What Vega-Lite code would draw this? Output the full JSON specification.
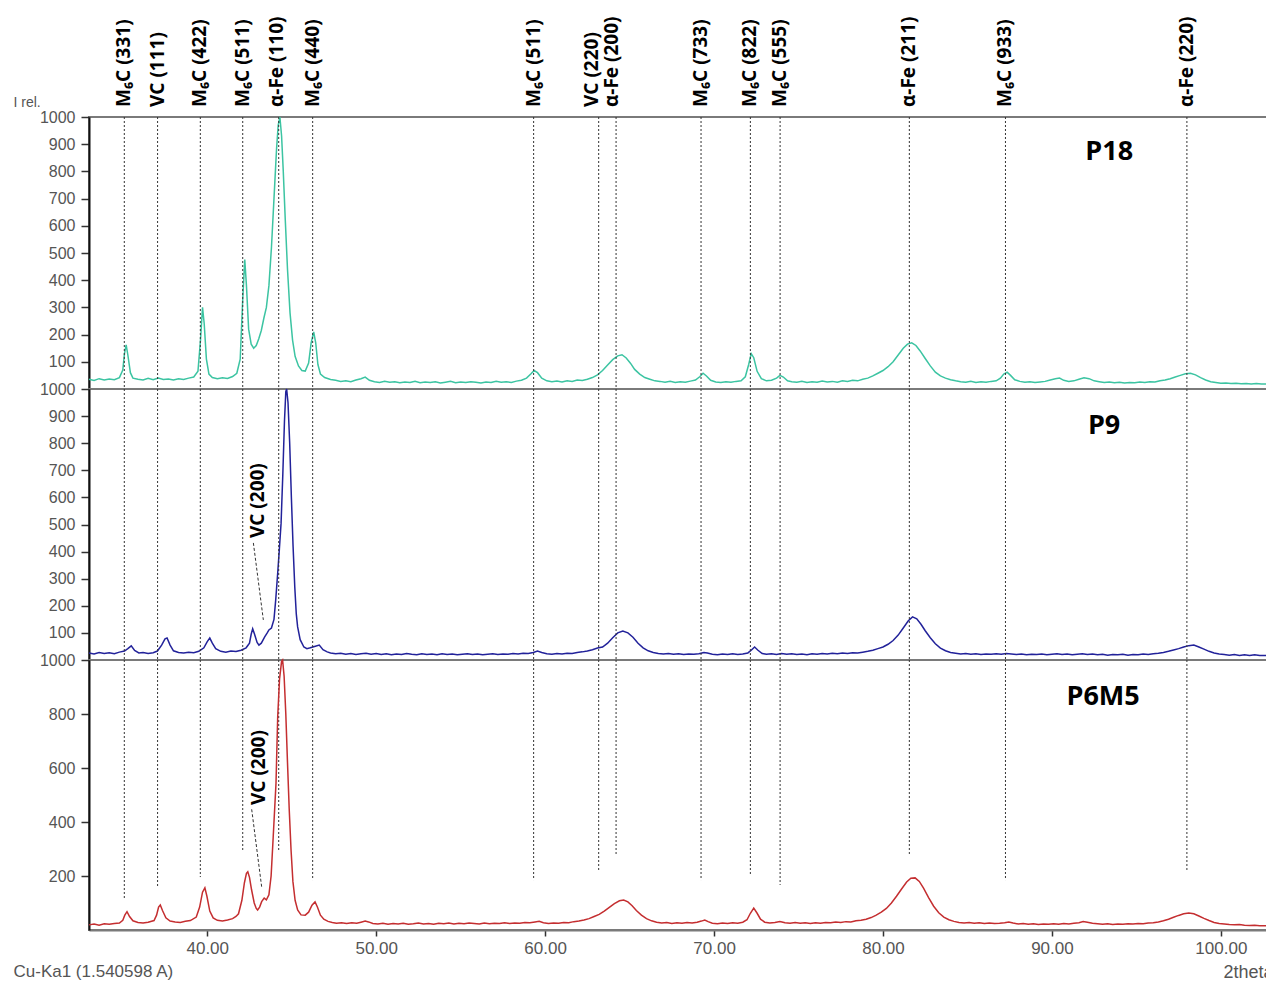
{
"$schema": "https://vega.github.io/schema/vega-lite/v6.json",
"background": "white",
"padding": {"left": 12, "top": 15, "right": 0, "bottom": 0},
"spacing": 0,
"bounds": "flush",
"datasets": {
"spec": [
{"s":"P18","x":33.0,"y":36},{"s":"P18","x":33.3,"y":31},{"s":"P18","x":33.6,"y":38},{"s":"P18","x":33.9,"y":33},{"s":"P18","x":34.2,"y":37},{"s":"P18","x":34.5,"y":34},{"s":"P18","x":34.8,"y":42},{"s":"P18","x":35.0,"y":70},{"s":"P18","x":35.1,"y":130},{"s":"P18","x":35.2,"y":162},{"s":"P18","x":35.3,"y":125},{"s":"P18","x":35.45,"y":60},{"s":"P18","x":35.6,"y":40},{"s":"P18","x":35.9,"y":36},{"s":"P18","x":36.2,"y":33},{"s":"P18","x":36.5,"y":39},{"s":"P18","x":36.8,"y":34},{"s":"P18","x":37.1,"y":40},{"s":"P18","x":37.4,"y":35},{"s":"P18","x":37.7,"y":37},{"s":"P18","x":38.0,"y":33},{"s":"P18","x":38.3,"y":38},{"s":"P18","x":38.6,"y":35},{"s":"P18","x":38.9,"y":40},{"s":"P18","x":39.2,"y":44},{"s":"P18","x":39.45,"y":65},{"s":"P18","x":39.6,"y":180},{"s":"P18","x":39.72,"y":300},{"s":"P18","x":39.82,"y":240},{"s":"P18","x":39.95,"y":110},{"s":"P18","x":40.1,"y":55},{"s":"P18","x":40.3,"y":42},{"s":"P18","x":40.6,"y":38},{"s":"P18","x":40.9,"y":41},{"s":"P18","x":41.2,"y":39},{"s":"P18","x":41.5,"y":46},{"s":"P18","x":41.75,"y":58},{"s":"P18","x":41.95,"y":110},{"s":"P18","x":42.1,"y":330},{"s":"P18","x":42.22,"y":476},{"s":"P18","x":42.32,"y":380},{"s":"P18","x":42.45,"y":220},{"s":"P18","x":42.6,"y":165},{"s":"P18","x":42.75,"y":150},{"s":"P18","x":42.9,"y":160},{"s":"P18","x":43.05,"y":185},{"s":"P18","x":43.2,"y":215},{"s":"P18","x":43.35,"y":260},{"s":"P18","x":43.5,"y":300},{"s":"P18","x":43.65,"y":380},{"s":"P18","x":43.8,"y":520},{"s":"P18","x":43.95,"y":700},{"s":"P18","x":44.1,"y":880},{"s":"P18","x":44.2,"y":970},{"s":"P18","x":44.3,"y":1000},{"s":"P18","x":44.4,"y":930},{"s":"P18","x":44.5,"y":800},{"s":"P18","x":44.62,"y":620},{"s":"P18","x":44.75,"y":440},{"s":"P18","x":44.9,"y":280},{"s":"P18","x":45.05,"y":180},{"s":"P18","x":45.2,"y":120},{"s":"P18","x":45.4,"y":85},{"s":"P18","x":45.6,"y":68},{"s":"P18","x":45.8,"y":66},{"s":"P18","x":46.0,"y":95},{"s":"P18","x":46.15,"y":170},{"s":"P18","x":46.3,"y":210},{"s":"P18","x":46.42,"y":170},{"s":"P18","x":46.55,"y":90},{"s":"P18","x":46.7,"y":55},{"s":"P18","x":46.95,"y":42},{"s":"P18","x":47.3,"y":35},{"s":"P18","x":47.6,"y":32},{"s":"P18","x":47.9,"y":28},{"s":"P18","x":48.2,"y":30},{"s":"P18","x":48.5,"y":27},{"s":"P18","x":48.8,"y":33},{"s":"P18","x":49.1,"y":38},{"s":"P18","x":49.35,"y":44},{"s":"P18","x":49.6,"y":32},{"s":"P18","x":49.9,"y":27},{"s":"P18","x":50.2,"y":24},{"s":"P18","x":50.5,"y":28},{"s":"P18","x":50.8,"y":25},{"s":"P18","x":51.1,"y":27},{"s":"P18","x":51.4,"y":23},{"s":"P18","x":51.7,"y":26},{"s":"P18","x":52.0,"y":24},{"s":"P18","x":52.3,"y":28},{"s":"P18","x":52.6,"y":23},{"s":"P18","x":52.9,"y":26},{"s":"P18","x":53.2,"y":24},{"s":"P18","x":53.5,"y":27},{"s":"P18","x":53.8,"y":22},{"s":"P18","x":54.1,"y":25},{"s":"P18","x":54.4,"y":28},{"s":"P18","x":54.7,"y":23},{"s":"P18","x":55.0,"y":26},{"s":"P18","x":55.3,"y":24},{"s":"P18","x":55.6,"y":27},{"s":"P18","x":55.9,"y":25},{"s":"P18","x":56.2,"y":22},{"s":"P18","x":56.5,"y":26},{"s":"P18","x":56.8,"y":24},{"s":"P18","x":57.1,"y":28},{"s":"P18","x":57.4,"y":25},{"s":"P18","x":57.7,"y":27},{"s":"P18","x":58.0,"y":24},{"s":"P18","x":58.3,"y":29},{"s":"P18","x":58.6,"y":32},{"s":"P18","x":58.9,"y":40},{"s":"P18","x":59.15,"y":55},{"s":"P18","x":59.35,"y":68},{"s":"P18","x":59.55,"y":60},{"s":"P18","x":59.8,"y":40},{"s":"P18","x":60.1,"y":30},{"s":"P18","x":60.4,"y":27},{"s":"P18","x":60.7,"y":29},{"s":"P18","x":61.0,"y":26},{"s":"P18","x":61.3,"y":30},{"s":"P18","x":61.6,"y":28},{"s":"P18","x":61.9,"y":33},{"s":"P18","x":62.2,"y":31},{"s":"P18","x":62.5,"y":36},{"s":"P18","x":62.8,"y":42},{"s":"P18","x":63.1,"y":52},{"s":"P18","x":63.4,"y":68},{"s":"P18","x":63.7,"y":88},{"s":"P18","x":64.0,"y":108},{"s":"P18","x":64.3,"y":122},{"s":"P18","x":64.55,"y":126},{"s":"P18","x":64.8,"y":114},{"s":"P18","x":65.05,"y":95},{"s":"P18","x":65.3,"y":72},{"s":"P18","x":65.6,"y":55},{"s":"P18","x":65.9,"y":42},{"s":"P18","x":66.2,"y":36},{"s":"P18","x":66.5,"y":30},{"s":"P18","x":66.8,"y":28},{"s":"P18","x":67.1,"y":25},{"s":"P18","x":67.4,"y":28},{"s":"P18","x":67.7,"y":24},{"s":"P18","x":68.0,"y":27},{"s":"P18","x":68.3,"y":25},{"s":"P18","x":68.6,"y":29},{"s":"P18","x":68.9,"y":33},{"s":"P18","x":69.15,"y":45},{"s":"P18","x":69.35,"y":58},{"s":"P18","x":69.55,"y":48},{"s":"P18","x":69.8,"y":32},{"s":"P18","x":70.1,"y":26},{"s":"P18","x":70.4,"y":24},{"s":"P18","x":70.7,"y":27},{"s":"P18","x":71.0,"y":25},{"s":"P18","x":71.3,"y":28},{"s":"P18","x":71.6,"y":30},{"s":"P18","x":71.85,"y":45},{"s":"P18","x":72.05,"y":90},{"s":"P18","x":72.2,"y":130},{"s":"P18","x":72.35,"y":115},{"s":"P18","x":72.55,"y":65},{"s":"P18","x":72.8,"y":38},{"s":"P18","x":73.1,"y":30},{"s":"P18","x":73.4,"y":32},{"s":"P18","x":73.7,"y":40},{"s":"P18","x":73.9,"y":50},{"s":"P18","x":74.1,"y":44},{"s":"P18","x":74.35,"y":30},{"s":"P18","x":74.6,"y":27},{"s":"P18","x":74.9,"y":25},{"s":"P18","x":75.2,"y":28},{"s":"P18","x":75.5,"y":24},{"s":"P18","x":75.8,"y":27},{"s":"P18","x":76.1,"y":25},{"s":"P18","x":76.4,"y":29},{"s":"P18","x":76.7,"y":26},{"s":"P18","x":77.0,"y":28},{"s":"P18","x":77.3,"y":25},{"s":"P18","x":77.6,"y":30},{"s":"P18","x":77.9,"y":28},{"s":"P18","x":78.2,"y":32},{"s":"P18","x":78.5,"y":30},{"s":"P18","x":78.8,"y":36},{"s":"P18","x":79.1,"y":40},{"s":"P18","x":79.4,"y":48},{"s":"P18","x":79.7,"y":58},{"s":"P18","x":80.0,"y":68},{"s":"P18","x":80.3,"y":82},{"s":"P18","x":80.6,"y":100},{"s":"P18","x":80.9,"y":125},{"s":"P18","x":81.2,"y":150},{"s":"P18","x":81.45,"y":165},{"s":"P18","x":81.7,"y":170},{"s":"P18","x":81.95,"y":160},{"s":"P18","x":82.2,"y":140},{"s":"P18","x":82.5,"y":112},{"s":"P18","x":82.8,"y":85},{"s":"P18","x":83.1,"y":62},{"s":"P18","x":83.4,"y":48},{"s":"P18","x":83.7,"y":40},{"s":"P18","x":84.0,"y":34},{"s":"P18","x":84.3,"y":30},{"s":"P18","x":84.6,"y":27},{"s":"P18","x":84.9,"y":25},{"s":"P18","x":85.2,"y":28},{"s":"P18","x":85.5,"y":24},{"s":"P18","x":85.8,"y":27},{"s":"P18","x":86.1,"y":25},{"s":"P18","x":86.4,"y":28},{"s":"P18","x":86.7,"y":30},{"s":"P18","x":86.95,"y":40},{"s":"P18","x":87.15,"y":55},{"s":"P18","x":87.35,"y":62},{"s":"P18","x":87.55,"y":50},{"s":"P18","x":87.8,"y":34},{"s":"P18","x":88.1,"y":28},{"s":"P18","x":88.4,"y":25},{"s":"P18","x":88.7,"y":27},{"s":"P18","x":89.0,"y":24},{"s":"P18","x":89.3,"y":26},{"s":"P18","x":89.6,"y":28},{"s":"P18","x":89.9,"y":33},{"s":"P18","x":90.2,"y":38},{"s":"P18","x":90.45,"y":40},{"s":"P18","x":90.7,"y":32},{"s":"P18","x":91.0,"y":28},{"s":"P18","x":91.3,"y":30},{"s":"P18","x":91.6,"y":36},{"s":"P18","x":91.9,"y":41},{"s":"P18","x":92.2,"y":38},{"s":"P18","x":92.5,"y":30},{"s":"P18","x":92.8,"y":27},{"s":"P18","x":93.1,"y":24},{"s":"P18","x":93.4,"y":26},{"s":"P18","x":93.7,"y":23},{"s":"P18","x":94.0,"y":25},{"s":"P18","x":94.3,"y":22},{"s":"P18","x":94.6,"y":24},{"s":"P18","x":94.9,"y":23},{"s":"P18","x":95.2,"y":26},{"s":"P18","x":95.5,"y":24},{"s":"P18","x":95.8,"y":27},{"s":"P18","x":96.1,"y":26},{"s":"P18","x":96.4,"y":30},{"s":"P18","x":96.7,"y":33},{"s":"P18","x":97.0,"y":38},{"s":"P18","x":97.3,"y":44},{"s":"P18","x":97.6,"y":50},{"s":"P18","x":97.9,"y":56},{"s":"P18","x":98.2,"y":58},{"s":"P18","x":98.5,"y":52},{"s":"P18","x":98.8,"y":42},{"s":"P18","x":99.1,"y":33},{"s":"P18","x":99.4,"y":27},{"s":"P18","x":99.7,"y":24},{"s":"P18","x":100.0,"y":21},{"s":"P18","x":100.3,"y":22},{"s":"P18","x":100.6,"y":20},{"s":"P18","x":100.9,"y":21},{"s":"P18","x":101.2,"y":19},{"s":"P18","x":101.5,"y":20},{"s":"P18","x":101.8,"y":18},{"s":"P18","x":102.1,"y":20},{"s":"P18","x":102.4,"y":18},{"s":"P18","x":102.85,"y":18},
{"s":"P9","x":33.0,"y":26},{"s":"P9","x":33.3,"y":22},{"s":"P9","x":33.6,"y":28},{"s":"P9","x":33.9,"y":24},{"s":"P9","x":34.2,"y":27},{"s":"P9","x":34.5,"y":23},{"s":"P9","x":34.8,"y":29},{"s":"P9","x":35.1,"y":33},{"s":"P9","x":35.3,"y":42},{"s":"P9","x":35.5,"y":52},{"s":"P9","x":35.7,"y":35},{"s":"P9","x":35.95,"y":26},{"s":"P9","x":36.2,"y":28},{"s":"P9","x":36.5,"y":24},{"s":"P9","x":36.8,"y":27},{"s":"P9","x":37.05,"y":33},{"s":"P9","x":37.3,"y":55},{"s":"P9","x":37.5,"y":78},{"s":"P9","x":37.62,"y":81},{"s":"P9","x":37.8,"y":55},{"s":"P9","x":38.0,"y":34},{"s":"P9","x":38.3,"y":28},{"s":"P9","x":38.6,"y":26},{"s":"P9","x":38.9,"y":29},{"s":"P9","x":39.2,"y":27},{"s":"P9","x":39.5,"y":32},{"s":"P9","x":39.8,"y":45},{"s":"P9","x":40.0,"y":68},{"s":"P9","x":40.15,"y":81},{"s":"P9","x":40.3,"y":62},{"s":"P9","x":40.5,"y":42},{"s":"P9","x":40.8,"y":32},{"s":"P9","x":41.1,"y":29},{"s":"P9","x":41.4,"y":33},{"s":"P9","x":41.7,"y":31},{"s":"P9","x":42.0,"y":36},{"s":"P9","x":42.3,"y":45},{"s":"P9","x":42.5,"y":62},{"s":"P9","x":42.6,"y":95},{"s":"P9","x":42.69,"y":115},{"s":"P9","x":42.8,"y":95},{"s":"P9","x":42.95,"y":65},{"s":"P9","x":43.06,"y":55},{"s":"P9","x":43.2,"y":62},{"s":"P9","x":43.4,"y":85},{"s":"P9","x":43.55,"y":100},{"s":"P9","x":43.65,"y":111},{"s":"P9","x":43.8,"y":118},{"s":"P9","x":43.95,"y":150},{"s":"P9","x":44.05,"y":220},{"s":"P9","x":44.17,"y":321},{"s":"P9","x":44.27,"y":410},{"s":"P9","x":44.37,"y":505},{"s":"P9","x":44.47,"y":680},{"s":"P9","x":44.57,"y":880},{"s":"P9","x":44.65,"y":990},{"s":"P9","x":44.7,"y":1000},{"s":"P9","x":44.78,"y":950},{"s":"P9","x":44.88,"y":800},{"s":"P9","x":44.98,"y":600},{"s":"P9","x":45.08,"y":420},{"s":"P9","x":45.18,"y":270},{"s":"P9","x":45.27,"y":170},{"s":"P9","x":45.35,"y":122},{"s":"P9","x":45.5,"y":75},{"s":"P9","x":45.72,"y":48},{"s":"P9","x":45.9,"y":42},{"s":"P9","x":46.1,"y":45},{"s":"P9","x":46.35,"y":50},{"s":"P9","x":46.63,"y":55},{"s":"P9","x":46.85,"y":38},{"s":"P9","x":47.1,"y":30},{"s":"P9","x":47.3,"y":26},{"s":"P9","x":47.6,"y":23},{"s":"P9","x":47.9,"y":25},{"s":"P9","x":48.2,"y":21},{"s":"P9","x":48.5,"y":24},{"s":"P9","x":48.8,"y":20},{"s":"P9","x":49.1,"y":23},{"s":"P9","x":49.4,"y":25},{"s":"P9","x":49.7,"y":21},{"s":"P9","x":50.0,"y":24},{"s":"P9","x":50.3,"y":20},{"s":"P9","x":50.6,"y":23},{"s":"P9","x":50.9,"y":19},{"s":"P9","x":51.2,"y":22},{"s":"P9","x":51.5,"y":20},{"s":"P9","x":51.8,"y":24},{"s":"P9","x":52.1,"y":21},{"s":"P9","x":52.4,"y":19},{"s":"P9","x":52.7,"y":23},{"s":"P9","x":53.0,"y":20},{"s":"P9","x":53.3,"y":22},{"s":"P9","x":53.6,"y":19},{"s":"P9","x":53.9,"y":23},{"s":"P9","x":54.2,"y":20},{"s":"P9","x":54.5,"y":22},{"s":"P9","x":54.8,"y":19},{"s":"P9","x":55.1,"y":21},{"s":"P9","x":55.4,"y":23},{"s":"P9","x":55.7,"y":20},{"s":"P9","x":56.0,"y":22},{"s":"P9","x":56.3,"y":19},{"s":"P9","x":56.6,"y":21},{"s":"P9","x":56.9,"y":23},{"s":"P9","x":57.2,"y":20},{"s":"P9","x":57.5,"y":22},{"s":"P9","x":57.8,"y":21},{"s":"P9","x":58.1,"y":24},{"s":"P9","x":58.4,"y":22},{"s":"P9","x":58.7,"y":25},{"s":"P9","x":59.0,"y":24},{"s":"P9","x":59.3,"y":28},{"s":"P9","x":59.55,"y":33},{"s":"P9","x":59.8,"y":28},{"s":"P9","x":60.1,"y":23},{"s":"P9","x":60.4,"y":21},{"s":"P9","x":60.7,"y":24},{"s":"P9","x":61.0,"y":22},{"s":"P9","x":61.3,"y":25},{"s":"P9","x":61.6,"y":24},{"s":"P9","x":61.9,"y":28},{"s":"P9","x":62.2,"y":30},{"s":"P9","x":62.5,"y":33},{"s":"P9","x":62.8,"y":38},{"s":"P9","x":63.1,"y":44},{"s":"P9","x":63.4,"y":48},{"s":"P9","x":63.7,"y":62},{"s":"P9","x":64.0,"y":82},{"s":"P9","x":64.3,"y":100},{"s":"P9","x":64.6,"y":107},{"s":"P9","x":64.9,"y":100},{"s":"P9","x":65.2,"y":84},{"s":"P9","x":65.5,"y":62},{"s":"P9","x":65.8,"y":45},{"s":"P9","x":66.1,"y":34},{"s":"P9","x":66.4,"y":28},{"s":"P9","x":66.7,"y":24},{"s":"P9","x":67.0,"y":22},{"s":"P9","x":67.3,"y":24},{"s":"P9","x":67.6,"y":21},{"s":"P9","x":67.9,"y":23},{"s":"P9","x":68.2,"y":20},{"s":"P9","x":68.5,"y":22},{"s":"P9","x":68.8,"y":21},{"s":"P9","x":69.1,"y":23},{"s":"P9","x":69.4,"y":28},{"s":"P9","x":69.6,"y":26},{"s":"P9","x":69.9,"y":21},{"s":"P9","x":70.2,"y":19},{"s":"P9","x":70.5,"y":22},{"s":"P9","x":70.8,"y":20},{"s":"P9","x":71.1,"y":23},{"s":"P9","x":71.4,"y":20},{"s":"P9","x":71.7,"y":22},{"s":"P9","x":72.0,"y":26},{"s":"P9","x":72.2,"y":36},{"s":"P9","x":72.4,"y":48},{"s":"P9","x":72.6,"y":36},{"s":"P9","x":72.85,"y":24},{"s":"P9","x":73.1,"y":21},{"s":"P9","x":73.4,"y":23},{"s":"P9","x":73.7,"y":20},{"s":"P9","x":74.0,"y":24},{"s":"P9","x":74.3,"y":21},{"s":"P9","x":74.6,"y":23},{"s":"P9","x":74.9,"y":20},{"s":"P9","x":75.2,"y":22},{"s":"P9","x":75.5,"y":19},{"s":"P9","x":75.8,"y":23},{"s":"P9","x":76.1,"y":21},{"s":"P9","x":76.4,"y":24},{"s":"P9","x":76.7,"y":22},{"s":"P9","x":77.0,"y":25},{"s":"P9","x":77.3,"y":23},{"s":"P9","x":77.6,"y":26},{"s":"P9","x":77.9,"y":24},{"s":"P9","x":78.2,"y":27},{"s":"P9","x":78.5,"y":26},{"s":"P9","x":78.8,"y":29},{"s":"P9","x":79.1,"y":32},{"s":"P9","x":79.4,"y":36},{"s":"P9","x":79.7,"y":42},{"s":"P9","x":80.0,"y":48},{"s":"P9","x":80.3,"y":58},{"s":"P9","x":80.6,"y":72},{"s":"P9","x":80.9,"y":92},{"s":"P9","x":81.2,"y":118},{"s":"P9","x":81.5,"y":145},{"s":"P9","x":81.75,"y":159},{"s":"P9","x":82.0,"y":152},{"s":"P9","x":82.25,"y":132},{"s":"P9","x":82.5,"y":108},{"s":"P9","x":82.8,"y":82},{"s":"P9","x":83.1,"y":60},{"s":"P9","x":83.4,"y":44},{"s":"P9","x":83.7,"y":34},{"s":"P9","x":84.0,"y":28},{"s":"P9","x":84.3,"y":25},{"s":"P9","x":84.6,"y":22},{"s":"P9","x":84.9,"y":24},{"s":"P9","x":85.2,"y":21},{"s":"P9","x":85.5,"y":23},{"s":"P9","x":85.8,"y":20},{"s":"P9","x":86.1,"y":22},{"s":"P9","x":86.4,"y":21},{"s":"P9","x":86.7,"y":23},{"s":"P9","x":87.0,"y":21},{"s":"P9","x":87.3,"y":24},{"s":"P9","x":87.6,"y":22},{"s":"P9","x":87.9,"y":20},{"s":"P9","x":88.2,"y":22},{"s":"P9","x":88.5,"y":19},{"s":"P9","x":88.8,"y":21},{"s":"P9","x":89.1,"y":20},{"s":"P9","x":89.4,"y":22},{"s":"P9","x":89.7,"y":19},{"s":"P9","x":90.0,"y":21},{"s":"P9","x":90.3,"y":23},{"s":"P9","x":90.6,"y":20},{"s":"P9","x":90.9,"y":22},{"s":"P9","x":91.2,"y":19},{"s":"P9","x":91.5,"y":21},{"s":"P9","x":91.8,"y":23},{"s":"P9","x":92.1,"y":20},{"s":"P9","x":92.4,"y":22},{"s":"P9","x":92.7,"y":19},{"s":"P9","x":93.0,"y":21},{"s":"P9","x":93.3,"y":18},{"s":"P9","x":93.6,"y":20},{"s":"P9","x":93.9,"y":19},{"s":"P9","x":94.2,"y":21},{"s":"P9","x":94.5,"y":18},{"s":"P9","x":94.8,"y":20},{"s":"P9","x":95.1,"y":19},{"s":"P9","x":95.4,"y":22},{"s":"P9","x":95.7,"y":20},{"s":"P9","x":96.0,"y":23},{"s":"P9","x":96.3,"y":25},{"s":"P9","x":96.6,"y":28},{"s":"P9","x":96.9,"y":32},{"s":"P9","x":97.2,"y":37},{"s":"P9","x":97.5,"y":42},{"s":"P9","x":97.8,"y":48},{"s":"P9","x":98.1,"y":53},{"s":"P9","x":98.4,"y":55},{"s":"P9","x":98.7,"y":48},{"s":"P9","x":99.0,"y":40},{"s":"P9","x":99.3,"y":32},{"s":"P9","x":99.6,"y":26},{"s":"P9","x":99.9,"y":22},{"s":"P9","x":100.2,"y":20},{"s":"P9","x":100.5,"y":18},{"s":"P9","x":100.8,"y":20},{"s":"P9","x":101.1,"y":17},{"s":"P9","x":101.4,"y":19},{"s":"P9","x":101.7,"y":17},{"s":"P9","x":102.0,"y":19},{"s":"P9","x":102.3,"y":17},{"s":"P9","x":102.85,"y":17},
{"s":"P6M5","x":33.0,"y":19},{"s":"P6M5","x":33.3,"y":22},{"s":"P6M5","x":33.6,"y":18},{"s":"P6M5","x":33.9,"y":23},{"s":"P6M5","x":34.2,"y":21},{"s":"P6M5","x":34.5,"y":24},{"s":"P6M5","x":34.8,"y":26},{"s":"P6M5","x":35.0,"y":36},{"s":"P6M5","x":35.12,"y":55},{"s":"P6M5","x":35.25,"y":68},{"s":"P6M5","x":35.4,"y":50},{"s":"P6M5","x":35.6,"y":34},{"s":"P6M5","x":35.9,"y":28},{"s":"P6M5","x":36.2,"y":26},{"s":"P6M5","x":36.5,"y":29},{"s":"P6M5","x":36.85,"y":35},{"s":"P6M5","x":37.0,"y":55},{"s":"P6M5","x":37.12,"y":85},{"s":"P6M5","x":37.22,"y":93},{"s":"P6M5","x":37.35,"y":72},{"s":"P6M5","x":37.55,"y":45},{"s":"P6M5","x":37.8,"y":33},{"s":"P6M5","x":38.1,"y":30},{"s":"P6M5","x":38.4,"y":28},{"s":"P6M5","x":38.7,"y":32},{"s":"P6M5","x":39.0,"y":35},{"s":"P6M5","x":39.35,"y":48},{"s":"P6M5","x":39.55,"y":85},{"s":"P6M5","x":39.72,"y":140},{"s":"P6M5","x":39.86,"y":156},{"s":"P6M5","x":39.98,"y":125},{"s":"P6M5","x":40.15,"y":70},{"s":"P6M5","x":40.35,"y":45},{"s":"P6M5","x":40.6,"y":36},{"s":"P6M5","x":40.9,"y":33},{"s":"P6M5","x":41.2,"y":37},{"s":"P6M5","x":41.5,"y":42},{"s":"P6M5","x":41.7,"y":50},{"s":"P6M5","x":41.85,"y":60},{"s":"P6M5","x":42.05,"y":110},{"s":"P6M5","x":42.2,"y":175},{"s":"P6M5","x":42.32,"y":210},{"s":"P6M5","x":42.4,"y":216},{"s":"P6M5","x":42.5,"y":195},{"s":"P6M5","x":42.62,"y":150},{"s":"P6M5","x":42.78,"y":100},{"s":"P6M5","x":42.9,"y":80},{"s":"P6M5","x":42.98,"y":74},{"s":"P6M5","x":43.1,"y":85},{"s":"P6M5","x":43.22,"y":105},{"s":"P6M5","x":43.37,"y":118},{"s":"P6M5","x":43.5,"y":112},{"s":"P6M5","x":43.65,"y":130},{"s":"P6M5","x":43.78,"y":200},{"s":"P6M5","x":43.9,"y":340},{"s":"P6M5","x":44.0,"y":460},{"s":"P6M5","x":44.07,"y":544},{"s":"P6M5","x":44.17,"y":790},{"s":"P6M5","x":44.28,"y":930},{"s":"P6M5","x":44.4,"y":995},{"s":"P6M5","x":44.46,"y":1000},{"s":"P6M5","x":44.55,"y":940},{"s":"P6M5","x":44.65,"y":800},{"s":"P6M5","x":44.75,"y":620},{"s":"P6M5","x":44.85,"y":450},{"s":"P6M5","x":44.96,"y":296},{"s":"P6M5","x":45.07,"y":180},{"s":"P6M5","x":45.2,"y":110},{"s":"P6M5","x":45.35,"y":74},{"s":"P6M5","x":45.55,"y":56},{"s":"P6M5","x":45.8,"y":55},{"s":"P6M5","x":46.0,"y":66},{"s":"P6M5","x":46.2,"y":92},{"s":"P6M5","x":46.38,"y":104},{"s":"P6M5","x":46.52,"y":85},{"s":"P6M5","x":46.7,"y":55},{"s":"P6M5","x":46.9,"y":40},{"s":"P6M5","x":47.15,"y":32},{"s":"P6M5","x":47.4,"y":28},{"s":"P6M5","x":47.65,"y":25},{"s":"P6M5","x":47.95,"y":27},{"s":"P6M5","x":48.25,"y":24},{"s":"P6M5","x":48.55,"y":27},{"s":"P6M5","x":48.85,"y":25},{"s":"P6M5","x":49.1,"y":29},{"s":"P6M5","x":49.35,"y":33},{"s":"P6M5","x":49.55,"y":30},{"s":"P6M5","x":49.8,"y":24},{"s":"P6M5","x":50.1,"y":22},{"s":"P6M5","x":50.4,"y":25},{"s":"P6M5","x":50.7,"y":21},{"s":"P6M5","x":51.0,"y":24},{"s":"P6M5","x":51.3,"y":22},{"s":"P6M5","x":51.6,"y":25},{"s":"P6M5","x":51.9,"y":21},{"s":"P6M5","x":52.2,"y":23},{"s":"P6M5","x":52.5,"y":26},{"s":"P6M5","x":52.8,"y":22},{"s":"P6M5","x":53.1,"y":24},{"s":"P6M5","x":53.4,"y":21},{"s":"P6M5","x":53.7,"y":25},{"s":"P6M5","x":54.0,"y":23},{"s":"P6M5","x":54.3,"y":26},{"s":"P6M5","x":54.6,"y":22},{"s":"P6M5","x":54.9,"y":25},{"s":"P6M5","x":55.2,"y":23},{"s":"P6M5","x":55.5,"y":26},{"s":"P6M5","x":55.8,"y":24},{"s":"P6M5","x":56.1,"y":22},{"s":"P6M5","x":56.4,"y":26},{"s":"P6M5","x":56.7,"y":23},{"s":"P6M5","x":57.0,"y":25},{"s":"P6M5","x":57.3,"y":24},{"s":"P6M5","x":57.6,"y":27},{"s":"P6M5","x":57.9,"y":24},{"s":"P6M5","x":58.2,"y":26},{"s":"P6M5","x":58.5,"y":25},{"s":"P6M5","x":58.8,"y":28},{"s":"P6M5","x":59.1,"y":27},{"s":"P6M5","x":59.4,"y":30},{"s":"P6M5","x":59.65,"y":32},{"s":"P6M5","x":59.9,"y":27},{"s":"P6M5","x":60.2,"y":24},{"s":"P6M5","x":60.5,"y":26},{"s":"P6M5","x":60.8,"y":25},{"s":"P6M5","x":61.1,"y":28},{"s":"P6M5","x":61.4,"y":27},{"s":"P6M5","x":61.7,"y":31},{"s":"P6M5","x":62.0,"y":33},{"s":"P6M5","x":62.3,"y":37},{"s":"P6M5","x":62.6,"y":42},{"s":"P6M5","x":62.9,"y":50},{"s":"P6M5","x":63.2,"y":58},{"s":"P6M5","x":63.5,"y":70},{"s":"P6M5","x":63.8,"y":84},{"s":"P6M5","x":64.1,"y":98},{"s":"P6M5","x":64.4,"y":108},{"s":"P6M5","x":64.65,"y":111},{"s":"P6M5","x":64.9,"y":104},{"s":"P6M5","x":65.15,"y":90},{"s":"P6M5","x":65.4,"y":72},{"s":"P6M5","x":65.7,"y":55},{"s":"P6M5","x":66.0,"y":42},{"s":"P6M5","x":66.3,"y":34},{"s":"P6M5","x":66.6,"y":29},{"s":"P6M5","x":66.9,"y":26},{"s":"P6M5","x":67.2,"y":28},{"s":"P6M5","x":67.5,"y":24},{"s":"P6M5","x":67.8,"y":27},{"s":"P6M5","x":68.1,"y":25},{"s":"P6M5","x":68.4,"y":28},{"s":"P6M5","x":68.7,"y":26},{"s":"P6M5","x":69.0,"y":29},{"s":"P6M5","x":69.25,"y":33},{"s":"P6M5","x":69.45,"y":37},{"s":"P6M5","x":69.65,"y":31},{"s":"P6M5","x":69.9,"y":25},{"s":"P6M5","x":70.2,"y":23},{"s":"P6M5","x":70.5,"y":26},{"s":"P6M5","x":70.8,"y":24},{"s":"P6M5","x":71.1,"y":27},{"s":"P6M5","x":71.4,"y":25},{"s":"P6M5","x":71.7,"y":29},{"s":"P6M5","x":71.95,"y":38},{"s":"P6M5","x":72.15,"y":62},{"s":"P6M5","x":72.35,"y":81},{"s":"P6M5","x":72.55,"y":62},{"s":"P6M5","x":72.75,"y":40},{"s":"P6M5","x":73.0,"y":29},{"s":"P6M5","x":73.3,"y":26},{"s":"P6M5","x":73.6,"y":28},{"s":"P6M5","x":73.9,"y":31},{"s":"P6M5","x":74.2,"y":27},{"s":"P6M5","x":74.5,"y":25},{"s":"P6M5","x":74.8,"y":28},{"s":"P6M5","x":75.1,"y":25},{"s":"P6M5","x":75.4,"y":27},{"s":"P6M5","x":75.7,"y":24},{"s":"P6M5","x":76.0,"y":27},{"s":"P6M5","x":76.3,"y":25},{"s":"P6M5","x":76.6,"y":28},{"s":"P6M5","x":76.9,"y":27},{"s":"P6M5","x":77.2,"y":30},{"s":"P6M5","x":77.5,"y":28},{"s":"P6M5","x":77.8,"y":31},{"s":"P6M5","x":78.1,"y":30},{"s":"P6M5","x":78.4,"y":34},{"s":"P6M5","x":78.7,"y":36},{"s":"P6M5","x":79.0,"y":40},{"s":"P6M5","x":79.3,"y":46},{"s":"P6M5","x":79.6,"y":55},{"s":"P6M5","x":79.9,"y":66},{"s":"P6M5","x":80.2,"y":80},{"s":"P6M5","x":80.5,"y":100},{"s":"P6M5","x":80.8,"y":125},{"s":"P6M5","x":81.1,"y":152},{"s":"P6M5","x":81.4,"y":178},{"s":"P6M5","x":81.65,"y":192},{"s":"P6M5","x":81.9,"y":193},{"s":"P6M5","x":82.15,"y":180},{"s":"P6M5","x":82.4,"y":155},{"s":"P6M5","x":82.7,"y":120},{"s":"P6M5","x":83.0,"y":88},{"s":"P6M5","x":83.3,"y":64},{"s":"P6M5","x":83.6,"y":48},{"s":"P6M5","x":83.9,"y":38},{"s":"P6M5","x":84.2,"y":32},{"s":"P6M5","x":84.5,"y":28},{"s":"P6M5","x":84.8,"y":26},{"s":"P6M5","x":85.1,"y":28},{"s":"P6M5","x":85.4,"y":25},{"s":"P6M5","x":85.7,"y":27},{"s":"P6M5","x":86.0,"y":24},{"s":"P6M5","x":86.3,"y":26},{"s":"P6M5","x":86.6,"y":24},{"s":"P6M5","x":86.9,"y":25},{"s":"P6M5","x":87.2,"y":27},{"s":"P6M5","x":87.45,"y":30},{"s":"P6M5","x":87.7,"y":26},{"s":"P6M5","x":88.0,"y":22},{"s":"P6M5","x":88.3,"y":24},{"s":"P6M5","x":88.6,"y":21},{"s":"P6M5","x":88.9,"y":23},{"s":"P6M5","x":89.2,"y":20},{"s":"P6M5","x":89.5,"y":22},{"s":"P6M5","x":89.8,"y":21},{"s":"P6M5","x":90.1,"y":23},{"s":"P6M5","x":90.4,"y":21},{"s":"P6M5","x":90.7,"y":24},{"s":"P6M5","x":91.0,"y":22},{"s":"P6M5","x":91.3,"y":25},{"s":"P6M5","x":91.6,"y":27},{"s":"P6M5","x":91.85,"y":31},{"s":"P6M5","x":92.1,"y":29},{"s":"P6M5","x":92.4,"y":25},{"s":"P6M5","x":92.7,"y":23},{"s":"P6M5","x":93.0,"y":21},{"s":"P6M5","x":93.3,"y":23},{"s":"P6M5","x":93.6,"y":20},{"s":"P6M5","x":93.9,"y":22},{"s":"P6M5","x":94.2,"y":21},{"s":"P6M5","x":94.5,"y":23},{"s":"P6M5","x":94.8,"y":22},{"s":"P6M5","x":95.1,"y":24},{"s":"P6M5","x":95.4,"y":23},{"s":"P6M5","x":95.7,"y":26},{"s":"P6M5","x":96.0,"y":27},{"s":"P6M5","x":96.3,"y":30},{"s":"P6M5","x":96.6,"y":34},{"s":"P6M5","x":96.9,"y":40},{"s":"P6M5","x":97.2,"y":47},{"s":"P6M5","x":97.5,"y":54},{"s":"P6M5","x":97.8,"y":60},{"s":"P6M5","x":98.1,"y":63},{"s":"P6M5","x":98.4,"y":60},{"s":"P6M5","x":98.7,"y":52},{"s":"P6M5","x":99.0,"y":43},{"s":"P6M5","x":99.3,"y":35},{"s":"P6M5","x":99.6,"y":28},{"s":"P6M5","x":99.9,"y":24},{"s":"P6M5","x":100.2,"y":22},{"s":"P6M5","x":100.5,"y":20},{"s":"P6M5","x":100.8,"y":19},{"s":"P6M5","x":101.1,"y":20},{"s":"P6M5","x":101.4,"y":18},{"s":"P6M5","x":101.7,"y":17},{"s":"P6M5","x":102.0,"y":18},{"s":"P6M5","x":102.3,"y":16},{"s":"P6M5","x":102.85,"y":16}
],
"lines": [
{"pos":35.09,"lx":35.09,"label":"M₆C (331)","top":1000,"end":118},
{"pos":37.06,"lx":37.06,"label":"VC (111)","top":1000,"end":156},
{"pos":39.59,"lx":39.59,"label":"M₆C (422)","top":1000,"end":196},
{"pos":42.10,"lx":42.10,"label":"M₆C (511)","top":1000,"end":296},
{"pos":44.23,"lx":44.13,"label":"α-Fe (110)","top":1000,"end":289},
{"pos":46.24,"lx":46.24,"label":"M₆C (440)","top":1000,"end":185},
{"pos":59.32,"lx":59.32,"label":"M₆C (511)","top":1000,"end":185},
{"pos":63.17,"lx":62.78,"label":"VC (220)","top":1000,"end":222},
{"pos":64.20,"lx":63.96,"label":"α-Fe (200)","top":1000,"end":278},
{"pos":69.23,"lx":69.23,"label":"M₆C (733)","top":1000,"end":185},
{"pos":72.15,"lx":72.15,"label":"M₆C (822)","top":1000,"end":204},
{"pos":73.91,"lx":73.91,"label":"M₆C (555)","top":1000,"end":167},
{"pos":81.56,"lx":81.56,"label":"α-Fe (211)","top":1000,"end":278},
{"pos":87.25,"lx":87.25,"label":"M₆C (933)","top":1000,"end":185},
{"pos":97.99,"lx":97.99,"label":"α-Fe (220)","top":1000,"end":222}
],
"notes": [
{"panel":"P9","label":"VC (200)","tx":43.0,"ty":450,"ax":42.73,"ay":432,"bx":43.32,"by":148},
{"panel":"P6M5","label":"VC (200)","tx":43.06,"ty":463,"ax":42.63,"ay":447,"bx":43.22,"by":160}
],
"tags": [
{"panel":"P18","x":93.39,"y":871},
{"panel":"P9","x":93.09,"y":863},
{"panel":"P6M5","x":93.03,"y":863}
]
},
"vconcat": [
{
"width": 1180, "height": 272,
"layer": [
{"data":{"name":"spec"},"transform":[{"filter":"datum.s === 'P18'"}],"mark":{"type":"line","color":"#3cc4a2","strokeWidth":1.5},
 "encoding":{"x":{"field":"x","type":"quantitative","scale":{"domain":[33,102.85],"nice":false,"zero":false},"axis":null},
  "y":{"field":"y","type":"quantitative","scale":{"domain":[0,1000],"nice":false},
   "axis":{"values":[100,200,300,400,500,600,700,800,900,1000],"tickCount":12,"format":"d","labelOverlap":false,"title":"I rel.","titleAngle":0,"titleX":-76,"titleY":-15,"titleAlign":"left","titleBaseline":"middle","titleFontSize":14}}}},
{"data":{"name":"lines"},"mark":{"type":"rule","strokeDash":[2,2],"color":"#333333","strokeWidth":1},
 "encoding":{"x":{"field":"pos","type":"quantitative"}}},
{"data":{"name":"lines"},"mark":{"type":"text","angle":270,"align":"left","baseline":"middle","dx":10,"font":"Open Sans","fontWeight":"bold","fontSize":19,"color":"#000000"},
 "encoding":{"x":{"field":"lx","type":"quantitative"},"y":{"field":"top","type":"quantitative"},"text":{"field":"label","type":"nominal"}}},
{"data":{"name":"tags"},"transform":[{"filter":"datum.panel === 'P18'"}],"mark":{"type":"text","font":"Open Sans","fontWeight":"bold","fontSize":27,"color":"#000000","baseline":"middle"},
 "encoding":{"x":{"field":"x","type":"quantitative"},"y":{"field":"y","type":"quantitative"},"text":{"field":"panel","type":"nominal"}}}
]
},
{
"width": 1180, "height": 271,
"layer": [
{"data":{"name":"spec"},"transform":[{"filter":"datum.s === 'P9'"}],"mark":{"type":"line","color":"#22229a","strokeWidth":1.5},
 "encoding":{"x":{"field":"x","type":"quantitative","scale":{"domain":[33,102.85],"nice":false,"zero":false},"axis":null},
  "y":{"field":"y","type":"quantitative","scale":{"domain":[0,1000],"nice":false},
   "axis":{"values":[100,200,300,400,500,600,700,800,900,1000],"tickCount":12,"format":"d","labelOverlap":false,"title":null}}}},
{"data":{"name":"lines"},"mark":{"type":"rule","strokeDash":[2,2],"color":"#333333","strokeWidth":1},
 "encoding":{"x":{"field":"pos","type":"quantitative"}}},
{"data":{"name":"notes"},"transform":[{"filter":"datum.panel === 'P9'"}],"mark":{"type":"rule","strokeDash":[3,2],"color":"#333333","strokeWidth":1},
 "encoding":{"x":{"field":"ax","type":"quantitative"},"y":{"field":"ay","type":"quantitative"},"x2":{"field":"bx"},"y2":{"field":"by"}}},
{"data":{"name":"notes"},"transform":[{"filter":"datum.panel === 'P9'"}],"mark":{"type":"text","angle":270,"align":"left","baseline":"middle","font":"Open Sans","fontWeight":"bold","fontSize":19,"color":"#000000"},
 "encoding":{"x":{"field":"tx","type":"quantitative"},"y":{"field":"ty","type":"quantitative"},"text":{"field":"label","type":"nominal"}}},
{"data":{"name":"tags"},"transform":[{"filter":"datum.panel === 'P9'"}],"mark":{"type":"text","font":"Open Sans","fontWeight":"bold","fontSize":27,"color":"#000000","baseline":"middle"},
 "encoding":{"x":{"field":"x","type":"quantitative"},"y":{"field":"y","type":"quantitative"},"text":{"field":"panel","type":"nominal"}}}
]
},
{
"width": 1180, "height": 270,
"layer": [
{"data":{"name":"lines"},"mark":{"type":"rule","strokeDash":[2,2],"color":"#333333","strokeWidth":1},
 "encoding":{"x":{"field":"pos","type":"quantitative","scale":{"domain":[33,102.85],"nice":false,"zero":false},
   "axis":{"values":[40,50,60,70,80,90,100],"tickCount":10,"format":".2f","labelOverlap":false,"title":"2theta","titleX":1134,"titleY":42,"titleAlign":"left","titleBaseline":"middle","titleFontSize":18}},
  "y":{"field":"top","type":"quantitative","scale":{"domain":[0,1000],"nice":false},
   "axis":{"values":[200,400,600,800,1000],"tickCount":8,"format":"d","labelOverlap":false,"title":"Cu-Ka1 (1.540598 A)","titleAngle":0,"titleX":-76,"titleY":311,"titleAlign":"left","titleBaseline":"middle","titleFontSize":17}},
  "y2":{"field":"end"}}},
{"data":{"name":"spec"},"transform":[{"filter":"datum.s === 'P6M5'"}],"mark":{"type":"line","color":"#c42e30","strokeWidth":1.5},
 "encoding":{"x":{"field":"x","type":"quantitative"},"y":{"field":"y","type":"quantitative"}}},
{"data":{"name":"notes"},"transform":[{"filter":"datum.panel === 'P6M5'"}],"mark":{"type":"rule","strokeDash":[3,2],"color":"#333333","strokeWidth":1},
 "encoding":{"x":{"field":"ax","type":"quantitative"},"y":{"field":"ay","type":"quantitative"},"x2":{"field":"bx"},"y2":{"field":"by"}}},
{"data":{"name":"notes"},"transform":[{"filter":"datum.panel === 'P6M5'"}],"mark":{"type":"text","angle":270,"align":"left","baseline":"middle","font":"Open Sans","fontWeight":"bold","fontSize":19,"color":"#000000"},
 "encoding":{"x":{"field":"tx","type":"quantitative"},"y":{"field":"ty","type":"quantitative"},"text":{"field":"label","type":"nominal"}}},
{"data":{"name":"tags"},"transform":[{"filter":"datum.panel === 'P6M5'"}],"mark":{"type":"text","font":"Open Sans","fontWeight":"bold","fontSize":27,"color":"#000000","baseline":"middle"},
 "encoding":{"x":{"field":"x","type":"quantitative"},"y":{"field":"y","type":"quantitative"},"text":{"field":"panel","type":"nominal"}}}
]
}
],
"config": {
"view": {"stroke": "#7a7a7a", "strokeWidth": 2},
"axis": {"grid": false, "labelFont": "Liberation Sans", "labelFontSize": 16, "labelColor": "#555555", "tickColor": "#333333", "tickWidth": 1.5, "tickSize": 8, "labelPadding": 6, "domainColor": "#111111", "domainWidth": 2, "titleFont": "Liberation Sans", "titleFontWeight": "normal", "titleColor": "#555555", "labelOverlap": false},
"axisX": {"domainColor": "#7a7a7a", "tickSize": 6, "labelFontSize": 17, "labelPadding": 4}
}
}
